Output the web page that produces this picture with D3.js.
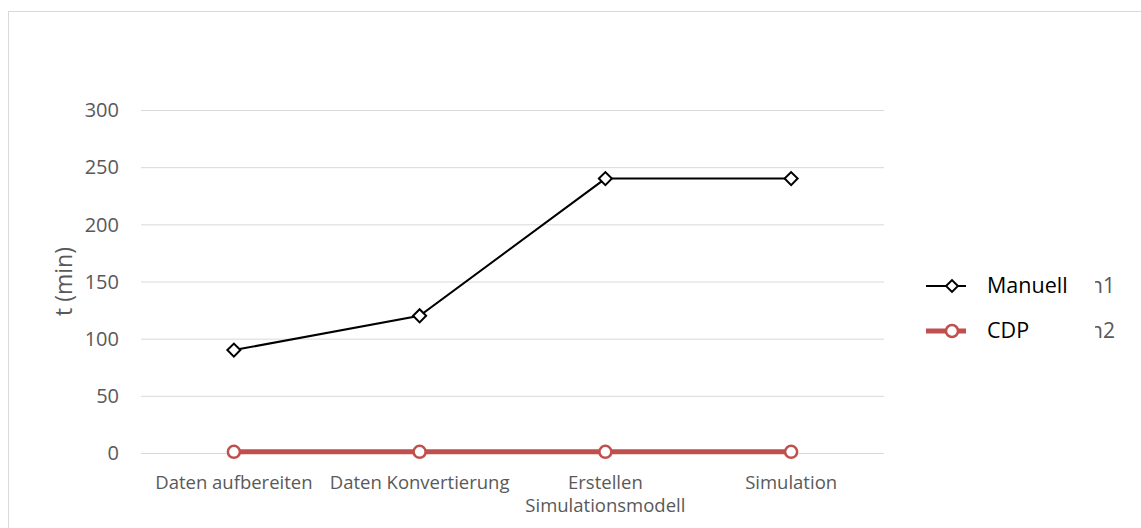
<!DOCTYPE html>
<html><head><meta charset="utf-8">
<script src="https://cdn.jsdelivr.net/npm/d3@7"></script>
<style>body{margin:0;background:#fff}svg{display:block}text{font-family:"Open Sans",sans-serif}</style>
</head><body>
<svg id="c" width="1141" height="528"></svg>
<script>
const categories = [["Daten aufbereiten"], ["Daten Konvertierung"], ["Erstellen", "Simulationsmodell"], ["Simulation"]];
const manuell = [90, 120, 240, 240];
const cdp = [1, 1, 1, 1];
const yTicks = [0, 50, 100, 150, 200, 250, 300];
const seriesNames = ["Manuell", "CDP"];
const hiddenNames = ["n1", "n2"];

const svg = d3.select("#c");
svg.append("rect").attr("x", 8.5).attr("y", 11.5).attr("width", 1200).attr("height", 600)
  .attr("fill", "#fff").attr("stroke", "#d9d9d9");

const L = 141, R = 884, T = 110, B = 453;
const x = d3.scaleBand().domain(d3.range(categories.length)).range([L, R]);
const y = d3.scaleLinear().domain([0, 300]).range([B, T]);

const yAxis = svg.append("g").attr("transform", `translate(${L},0)`)
  .call(d3.axisLeft(y).tickValues(yTicks).tickSize(-(R - L)).tickPadding(22));
yAxis.select(".domain").remove();
yAxis.selectAll("line").attr("stroke", "#d9d9d9");
yAxis.selectAll("text").attr("fill", "#595959").style("font-size", "20px").attr("dy", "0.34em");

svg.append("text").attr("transform", `translate(72,${(T + B) / 2}) rotate(-90)`)
  .attr("text-anchor", "middle").attr("fill", "#595959").style("font-size", "23px").text("t (min)");

const cx = i => x(i) + x.bandwidth() / 2;
categories.forEach((lines, i) => {
  const t = svg.append("text").attr("text-anchor", "middle").attr("fill", "#595959").style("font-size", "18.5px");
  lines.forEach((s, k) => t.append("tspan").attr("x", cx(i)).attr("y", 489 + k * 23).text(s));
});

const line = d3.line().x((d, i) => cx(i)).y(d => y(d));
const red = "#c0504d";
svg.append("path").datum(cdp).attr("d", line).attr("fill", "none").attr("stroke", red).attr("stroke-width", 5);
svg.selectAll(".cm").data(cdp).enter().append("circle").attr("cx", (d, i) => cx(i)).attr("cy", d => y(d))
  .attr("r", 6).attr("fill", "#fff").attr("stroke", red).attr("stroke-width", 2.5);
svg.append("path").datum(manuell).attr("d", line).attr("fill", "none").attr("stroke", "#000").attr("stroke-width", 2);
svg.selectAll(".dm").data(manuell).enter().append("path")
  .attr("d", d3.symbol().type(d3.symbolSquare).size(85)).attr("transform", (d, i) => `translate(${cx(i)},${y(d)}) rotate(45)`)
  .attr("fill", "#fff").attr("stroke", "#000").attr("stroke-width", 2);

// legend
const ly = [286, 331];
const lg = svg.append("g");
lg.append("line").attr("x1", 926).attr("x2", 966).attr("y1", ly[0]).attr("y2", ly[0]).attr("stroke", "#000").attr("stroke-width", 2);
lg.append("path").attr("d", d3.symbol().type(d3.symbolSquare).size(70)).attr("transform", `translate(952,${ly[0]}) rotate(45)`)
  .attr("fill", "#fff").attr("stroke", "#000").attr("stroke-width", 2);
lg.append("line").attr("x1", 926).attr("x2", 966).attr("y1", ly[1]).attr("y2", ly[1]).attr("stroke", red).attr("stroke-width", 5);
lg.append("circle").attr("cx", 952).attr("cy", ly[1]).attr("r", 6).attr("fill", "#fff").attr("stroke", red).attr("stroke-width", 2.5);
seriesNames.forEach((s, i) => lg.append("text").attr("x", 987).attr("y", ly[i] + 7).attr("fill", "#000").style("font-size", "21.5px").text(s));
svg.append("clipPath").attr("id", "cl").append("rect").attr("x", 1095).attr("y", 250).attr("width", 40).attr("height", 120);
hiddenNames.forEach((s, i) => svg.append("text").attr("clip-path", "url(#cl)").attr("x", 1115).attr("y", ly[i] + 7)
  .attr("text-anchor", "end").attr("fill", "#595959").style("font-size", "21px").text(s));
</script>
</body></html>
